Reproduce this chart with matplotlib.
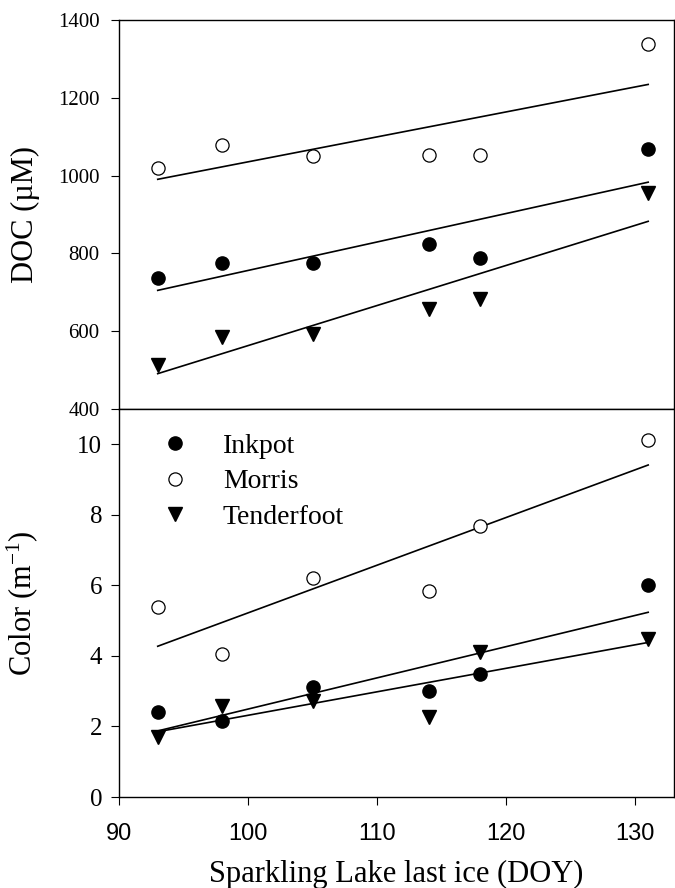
import numpy as np
import matplotlib
matplotlib.use("Agg")
import matplotlib.pyplot as plt

# day of year of last ice on Sparkling Lake
doy = [93, 98, 105, 114, 118, 131]

# DOC (uM)
doc_inkpot = [737, 775, 775, 825, 789, 1068]
doc_morris = [1020, 1079, 1050, 1052, 1052, 1338]
doc_tender = [514, 584, 593, 657, 684, 954]

# colour (m-1)
col_inkpot = [2.42, 2.16, 3.11, 3.01, 3.48, 6.0]
col_morris = [5.39, 4.05, 6.22, 5.85, 7.68, 10.11]
col_tender = [1.70, 2.58, 2.72, 2.26, 4.10, 4.47]

lakes = ["Inkpot", "Morris", "Tenderfoot"]

serif = "Liberation Serif"
sans = "Liberation Sans"

plt.rcParams["mathtext.fontset"] = "custom"
plt.rcParams["mathtext.rm"] = serif

W, H = 675, 888
fig = plt.figure(figsize=(W / 100, H / 100), dpi=100)

left = 119 / W
right = 674 / W
y_top = 1 - 20 / H
y_mid = 1 - 409 / H
y_bot = 1 - 797 / H

ax1 = fig.add_axes([left, y_mid, right - left, y_top - y_mid])
ax2 = fig.add_axes([left, y_bot, right - left, y_mid - y_bot], sharex=ax1)

styles = [
    dict(marker="o", mfc="black", mec="black", ms=9.5),
    dict(marker="o", mfc="white", mec="black", ms=9.5, mew=0.9),
    dict(marker="v", mfc="black", mec="black", ms=10),
]

x = np.array(doy)
xfit = np.array([doy[0], doy[-1]])


def draw(ax, series):
    handles = []
    for ys, st, name in zip(series, styles, lakes):
        k, b = np.polyfit(x, ys, 1)
        ax.plot(xfit, k * xfit + b, color="black", lw=1.2, zorder=2)
        h, = ax.plot(x, ys, ls="none", zorder=3, label=name, **st)
        handles.append(h)
    return handles


draw(ax1, [doc_inkpot, doc_morris, doc_tender])
handles = draw(ax2, [col_inkpot, col_morris, col_tender])

for ax in (ax1, ax2):
    for s in ax.spines.values():
        s.set_linewidth(1.0)
    ax.tick_params(direction="out", length=6, width=0.8)

ax1.set_xlim(90, 133)
ax1.set_ylim(400, 1400)
ax1.set_yticks([400, 600, 800, 1000, 1200, 1400])
ax1.tick_params(axis="x", bottom=False, labelbottom=False)
ax1.tick_params(axis="y", pad=8)
for t in ax1.get_yticklabels():
    t.set_fontfamily(serif)
    t.set_fontsize(15)

ax2.set_ylim(0, 11)
ax2.set_yticks([0, 2, 4, 6, 8, 10])
ax2.set_xticks([90, 100, 110, 120, 130])
ax2.tick_params(axis="y", pad=6)
ax2.tick_params(axis="x", pad=13)
for t in ax2.get_yticklabels():
    t.set_fontfamily(serif)
    t.set_fontsize(18)
for t in ax2.get_xticklabels():
    t.set_fontfamily(sans)
    t.set_fontsize(17)

ax1.set_ylabel("DOC (µM)", fontfamily=serif, fontsize=22)
ax1.yaxis.set_label_coords(-0.142, 0.5)
ax2.set_ylabel(r"Color (m$\mathregular{^{-1}}$)", fontfamily=serif, fontsize=22)
ax2.yaxis.set_label_coords(-0.142, 0.5)

ax2.set_xlabel("Sparkling Lake last ice (DOY)", fontfamily=serif, fontsize=22)
ax2.xaxis.label.set_va("baseline")
ax2.xaxis.set_label_coords(0.5, (797 - 882) / 388)

ax2.legend(handles=handles, loc="upper left", bbox_to_anchor=(0.063, 0.937),
           borderpad=0, borderaxespad=0, frameon=False,
           prop={"family": serif, "size": 20},
           handletextpad=0.98, labelspacing=0.36, handlelength=1.5)

fig.savefig("out.png", dpi=100)
